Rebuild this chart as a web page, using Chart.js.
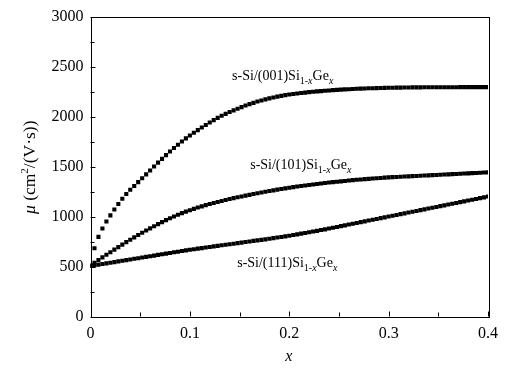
<!DOCTYPE html>
<html>
<head>
<meta charset="utf-8">
<script src="https://cdn.jsdelivr.net/npm/chart.js@4.4.0/dist/chart.umd.min.js"></script>
<style>
  html, body { margin: 0; padding: 0; background: #fff; }
  #wrap { width: 519px; height: 370px; }
</style>
</head>
<body>
<div id="wrap"><canvas id="chart" width="519" height="370"></canvas></div>
<script>
// sampling step of the x axis (Ge fraction)
const xStep = 0.004;

// mobility values, one per x step (0 .. 0.4)
const mu001 = [
  510, 682, 797, 881, 950, 1012, 1070, 1125, 1178, 1226,
  1268, 1306, 1344, 1383, 1422, 1461, 1500, 1539, 1577, 1614,
  1650, 1685, 1718, 1750, 1782, 1810, 1838, 1864, 1890, 1916,
  1940, 1964, 1987, 2008, 2027, 2045, 2062, 2078, 2094, 2110,
  2124, 2137, 2150, 2161, 2172, 2182, 2191, 2199, 2207, 2214,
  2221, 2226, 2231, 2236, 2240, 2244, 2248, 2252, 2255, 2258,
  2261, 2264, 2267, 2270, 2272, 2274, 2276, 2278, 2280, 2281,
  2283, 2284, 2285, 2286, 2287, 2288, 2289, 2290, 2290, 2291,
  2291, 2292, 2292, 2292, 2293, 2293, 2293, 2293, 2294, 2294,
  2294, 2294, 2294, 2295, 2295, 2295, 2295, 2295, 2295, 2295,
  2295
];
const mu101 = [
  510, 537, 564, 591, 617, 643, 669, 694, 719, 744,
  768, 792, 815, 838, 860, 882, 903, 924, 944, 964,
  983, 1001, 1018, 1034, 1049, 1063, 1077, 1090, 1102, 1114,
  1125, 1136, 1146, 1156, 1166, 1175, 1184, 1193, 1201, 1209,
  1217, 1225, 1233, 1241, 1248, 1255, 1262, 1269, 1276, 1282,
  1288, 1294, 1300, 1306, 1311, 1316, 1321, 1326, 1331, 1336,
  1340, 1344, 1348, 1352, 1356, 1360, 1364, 1368, 1371, 1374,
  1377, 1380, 1383, 1386, 1389, 1392, 1394, 1396, 1398, 1400,
  1402, 1404, 1406, 1408, 1410, 1412, 1414, 1416, 1418, 1420,
  1422, 1424, 1426, 1428, 1430, 1432, 1434, 1436, 1438, 1440,
  1442
];
const mu111 = [
  505, 512, 518, 525, 531, 538, 544, 551, 557, 564,
  570, 577, 583, 590, 596, 603, 609, 616, 622, 629,
  635, 642, 648, 655, 661, 668, 673, 679, 684, 690,
  695, 701, 706, 712, 717, 723, 728, 734, 739, 745,
  750, 756, 761, 767, 772, 778, 784, 790, 796, 802,
  808, 815, 822, 829, 836, 843, 850, 857, 865, 872,
  880, 888, 896, 904, 912, 920, 928, 936, 944, 952,
  960, 968, 976, 984, 992, 1000, 1008, 1016, 1024, 1032,
  1040, 1048, 1056, 1064, 1072, 1080, 1088, 1096, 1104, 1112,
  1120, 1128, 1136, 1144, 1152, 1160, 1168, 1176, 1184, 1192,
  1200
];

const seriesNames = ["(001)", "(101)", "(111)"];
const xTicks = [0, 0.1, 0.2, 0.3, 0.4];
const yTicks = [0, 500, 1000, 1500, 2000, 2500, 3000];

const serif = "'Liberation Serif', 'Times New Roman', serif";

function toPoints(values) {
    return values.map((y, i) => ({ x: +(i * xStep).toFixed(3), y: y }));
}

// draws a row of text pieces (normal / italic / subscript) one after another
function drawRuns(ctx, x, y, runs) {
    let cx = x;
    runs.forEach(r => {
        ctx.font = r.font;
        ctx.fillText(r.t, cx, y + (r.dy || 0));
        cx += ctx.measureText(r.t).width;
    });
}

function sampleLabel(plane) {
    return [
        { t: "s-Si/" + plane + "Si", font: "14px " + serif },
        { t: "1-", font: "10px " + serif, dy: 4 },
        { t: "x", font: "italic 10px " + serif, dy: 4 },
        { t: "Ge", font: "14px " + serif },
        { t: "x", font: "italic 10px " + serif, dy: 4 }
    ];
}

const frame = {
    id: "frame",
    afterDraw(chart) {
        const ctx = chart.ctx;
        const a = chart.chartArea;
        const xs = chart.scales.x;
        const ys = chart.scales.y;
        ctx.save();
        ctx.strokeStyle = "#000";
        ctx.fillStyle = "#000";
        ctx.lineWidth = 1;
        ctx.strokeRect(Math.round(a.left) + 0.5, Math.round(a.top) + 0.5,
            Math.round(a.right - a.left), Math.round(a.bottom - a.top));

        // inward ticks, left and bottom only
        ctx.beginPath();
        for (let v = 0; v <= 3000; v += 250) {
            const py = Math.round(ys.getPixelForValue(v)) + 0.5;
            const len = v % 500 === 0 ? 5 : 4;
            ctx.moveTo(a.left, py);
            ctx.lineTo(a.left + len, py);
        }
        for (let k = 0; k <= 8; k++) {
            const px = Math.round(xs.getPixelForValue(k * 0.05)) + 0.5;
            const len = k % 2 === 0 ? 5 : 4;
            ctx.moveTo(px, a.bottom);
            ctx.lineTo(px, a.bottom - len);
        }
        ctx.stroke();

        // axis titles
        ctx.textBaseline = "alphabetic";
        ctx.textAlign = "left";
        ctx.font = "italic 16px " + serif;
        ctx.fillText("x", (a.left + a.right) / 2 - 4, 361);

        ctx.save();
        ctx.translate(35, 214);
        ctx.rotate(-Math.PI / 2);
        drawRuns(ctx, 0, 0, [
            { t: "\u03bc", font: "italic 17.5px " + serif },
            { t: " (cm", font: "17.5px " + serif },
            { t: "2", font: "11px " + serif, dy: -7 },
            { t: "/(V\u00b7s))", font: "17.5px " + serif }
        ]);
        ctx.restore();

        // curve labels
        drawRuns(ctx, xs.getPixelForValue(0.1425), ys.getPixelForValue(2370), sampleLabel("(001)"));
        drawRuns(ctx, xs.getPixelForValue(0.1607), ys.getPixelForValue(1480), sampleLabel("(101)"));
        drawRuns(ctx, xs.getPixelForValue(0.1476), ys.getPixelForValue(495), sampleLabel("(111)"));
        ctx.restore();
    }
};

const pointStyle = {
    showLine: false,
    pointStyle: "rect",
    pointRadius: 2.9,
    pointBorderWidth: 0,
    pointBackgroundColor: "#000",
    borderColor: "#000",
    backgroundColor: "#000"
};

new Chart(document.getElementById("chart"), {
    type: "scatter",
    data: {
        datasets: [
            { label: seriesNames[0], data: toPoints(mu001), ...pointStyle },
            { label: seriesNames[1], data: toPoints(mu101), ...pointStyle },
            { label: seriesNames[2], data: toPoints(mu111), ...pointStyle }
        ]
    },
    options: {
        responsive: false,
        animation: false,
        devicePixelRatio: 1,
        layout: { padding: { left: 0, right: 31, top: 15, bottom: 0 } },
        plugins: {
            legend: { display: false },
            tooltip: { enabled: false }
        },
        scales: {
            x: {
                type: "linear",
                min: xTicks[0],
                max: xTicks[xTicks.length - 1],
                afterBuildTicks: s => { s.ticks = xTicks.map(v => ({ value: v })); },
                afterFit: s => { s.height = 53.5; },
                grid: { display: false, drawTicks: false },
                border: { display: false },
                ticks: {
                    padding: 8,
                    color: "#000",
                    font: { family: serif, size: 16 },
                    callback: v => String(v)
                }
            },
            y: {
                type: "linear",
                min: yTicks[0],
                max: yTicks[yTicks.length - 1],
                afterBuildTicks: s => { s.ticks = yTicks.map(v => ({ value: v })); },
                afterFit: s => { s.width = 90.5; },
                grid: { display: false, drawTicks: false },
                border: { display: false },
                ticks: {
                    padding: 7,
                    color: "#000",
                    font: { family: serif, size: 16 },
                    callback: v => String(v)
                }
            }
        }
    },
    plugins: [frame]
});
</script>
</body>
</html>
